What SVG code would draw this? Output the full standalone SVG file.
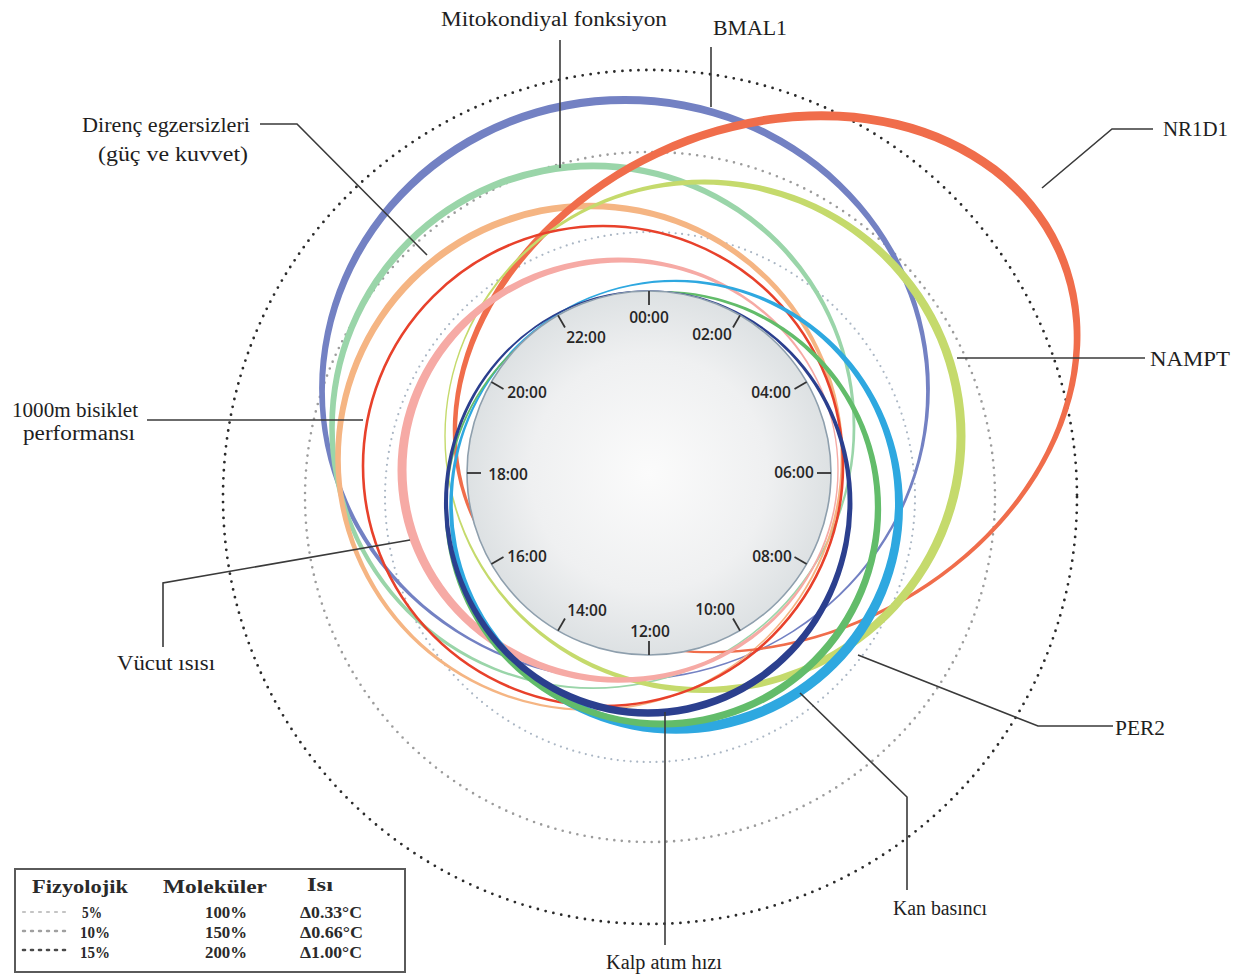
<svg xmlns="http://www.w3.org/2000/svg" width="1248" height="975" viewBox="0 0 1248 975">
<style>
.lbl{font-family:"Liberation Serif","Times New Roman",serif;font-size:20px;fill:#1e1e1e}
.ring{fill-rule:evenodd;stroke:none}
.lead{stroke:#3a3a3a;stroke-width:1.6;fill:none}
.clk{font-family:"Open Sans","Liberation Sans",sans-serif;font-size:15.5px;font-weight:600;fill:#262626;text-anchor:middle}
.tick{stroke:#333;stroke-width:1.8}
.lg{font-family:"Liberation Serif","Times New Roman",serif;font-weight:bold;fill:#2a2a2a}
.lgh{font-size:19px}
.lgr{font-size:16.5px}
</style>
<defs>
<radialGradient id="clockGrad" cx="50%" cy="50%" r="50%">
<stop offset="0" stop-color="#fbfbfb"/>
<stop offset="0.65" stop-color="#eff0f1"/>
<stop offset="1" stop-color="#dde1e3"/>
</radialGradient>
</defs>
<rect width="1248" height="975" fill="#ffffff"/>

<g id="scale-circles" fill="none" stroke-linecap="round">
<circle cx="650" cy="497" r="427" stroke="#2a2a2a" stroke-width="2.8" stroke-dasharray="0 8"/>
<circle cx="650" cy="497" r="345" stroke="#9c9c9c" stroke-width="2.6" stroke-dasharray="0 7.5"/>
<circle cx="650" cy="497" r="265" stroke="#aab6c4" stroke-width="2.2" stroke-dasharray="0 6.5"/>
</g>

<g id="bmal1">
<path class="ring" fill="#7381c3" d="M319.1 388.45 a305.4 292.4 0 1 0 610.8 0 a305.4 292.4 0 1 0 -610.8 0 Z M324.9 391.55 a300.6 287.6 0 1 0 601.2 0 a300.6 287.6 0 1 0 -601.2 0 Z"/>
<text class="lbl" x="713" y="35" textLength="74" lengthAdjust="spacingAndGlyphs">BMAL1</text>
</g>

<g id="mitokondiyal">
<path class="ring" fill="#9ad5a9" d="M329.2 425.8 a263.1 263.1 0 1 0 526.2 0 a263.1 263.1 0 1 0 -526.2 0 Z M334.8 428.2 a258.9 258.9 0 1 0 517.8 0 a258.9 258.9 0 1 0 -517.8 0 Z"/>
<text class="lbl" x="441" y="26" textLength="226" lengthAdjust="spacingAndGlyphs">Mitokondiyal fonksiyon</text>
</g>

<g id="direnc">
<path class="ring" fill="#f5b583" d="M335.2 456.8 a254.1 254.1 0 1 0 508.2 0 a254.1 254.1 0 1 0 -508.2 0 Z M340.8 459.2 a249.9 249.9 0 1 0 499.8 0 a249.9 249.9 0 1 0 -499.8 0 Z"/>
<text class="lbl" x="82" y="132" textLength="168" lengthAdjust="spacingAndGlyphs">Direnç egzersizleri</text>
<text class="lbl" x="98" y="161" textLength="150" lengthAdjust="spacingAndGlyphs">(güç ve kuvvet)</text>
</g>

<g id="nr1d1">
<path class="ring" fill="#f06d4b" transform="translate(766 384) rotate(-25)" d="M-323.5 -1.24 a324.75 257.75 0 1 0 649.5 0 a324.75 257.75 0 1 0 -649.5 0 Z M-320.5 1.24 a319.25 252.25 0 1 0 638.5 0 a319.25 252.25 0 1 0 -638.5 0 Z"/>
<text class="lbl" x="1163" y="136" textLength="65" lengthAdjust="spacingAndGlyphs">NR1D1</text>
</g>

<g id="nampt">
<path class="ring" fill="#c5da6c" d="M444.3 436.2 a260.6 256.6 0 1 0 521.2 0 a260.6 256.6 0 1 0 -521.2 0 Z M445.7 435.8 a255.4 251.4 0 1 0 510.8 0 a255.4 251.4 0 1 0 -510.8 0 Z"/>
<text class="lbl" x="1150" y="366" textLength="80" lengthAdjust="spacingAndGlyphs">NAMPT</text>
</g>

<g id="bisiklet">
<circle cx="603" cy="466" r="240" fill="none" stroke="#e8412b" stroke-width="2.6"/>
<text class="lbl" x="12" y="417" textLength="126" lengthAdjust="spacingAndGlyphs">1000m bisiklet</text>
<text class="lbl" x="23" y="440" textLength="112" lengthAdjust="spacingAndGlyphs">performansı</text>
</g>

<g id="vucut">
<path class="ring" fill="#f6aaa5" d="M397.5 470.2 a220.6 212.6 0 1 0 441.2 0 a220.6 212.6 0 1 0 -441.2 0 Z M406.5 469.8 a215.4 207.4 0 1 0 430.8 0 a215.4 207.4 0 1 0 -430.8 0 Z"/>
<text class="lbl" x="117" y="670" textLength="98" lengthAdjust="spacingAndGlyphs">Vücut ısısı</text>
</g>

<g id="per2">
<path class="ring" fill="#2ea8e0" d="M449.2 506.8 a226.9 226.9 0 1 0 453.8 0 a226.9 226.9 0 1 0 -453.8 0 Z M452.8 503.2 a221.1 221.1 0 1 0 442.2 0 a221.1 221.1 0 1 0 -442.2 0 Z"/>
<text class="lbl" x="1115" y="735" textLength="50" lengthAdjust="spacingAndGlyphs">PER2</text>
</g>

<g id="kan">
<path class="ring" fill="#62bc6a" d="M444.65 509.2 a218.25 218.25 0 1 0 436.5 0 a218.25 218.25 0 1 0 -436.5 0 Z M447.35 506.8 a213.75 213.75 0 1 0 427.5 0 a213.75 213.75 0 1 0 -427.5 0 Z"/>
<text class="lbl" x="893" y="915" textLength="94" lengthAdjust="spacingAndGlyphs">Kan basıncı</text>
</g>

<g id="kalp">
<path class="ring" fill="#2b3f8e" d="M443.95 503.5 a204.25 213.25 0 1 0 408.5 0 a204.25 213.25 0 1 0 -408.5 0 Z M448.05 500.5 a199.75 208.75 0 1 0 399.5 0 a199.75 208.75 0 1 0 -399.5 0 Z"/>
<text class="lbl" x="606" y="969" textLength="116" lengthAdjust="spacingAndGlyphs">Kalp atım hızı</text>
</g>

<g id="clock">
<circle cx="649" cy="473" r="182" fill="url(#clockGrad)" stroke="#8e9fad" stroke-width="1.6"/>
<g class="tick">
<line x1="649" y1="291" x2="649" y2="305" transform="rotate(0 649 473)"/>
<line x1="649" y1="291" x2="649" y2="305" transform="rotate(30 649 473)"/>
<line x1="649" y1="291" x2="649" y2="305" transform="rotate(60 649 473)"/>
<line x1="649" y1="291" x2="649" y2="305" transform="rotate(90 649 473)"/>
<line x1="649" y1="291" x2="649" y2="305" transform="rotate(120 649 473)"/>
<line x1="649" y1="291" x2="649" y2="305" transform="rotate(150 649 473)"/>
<line x1="649" y1="291" x2="649" y2="305" transform="rotate(180 649 473)"/>
<line x1="649" y1="291" x2="649" y2="305" transform="rotate(210 649 473)"/>
<line x1="649" y1="291" x2="649" y2="305" transform="rotate(240 649 473)"/>
<line x1="649" y1="291" x2="649" y2="305" transform="rotate(270 649 473)"/>
<line x1="649" y1="291" x2="649" y2="305" transform="rotate(300 649 473)"/>
<line x1="649" y1="291" x2="649" y2="305" transform="rotate(330 649 473)"/>
</g>
<text class="clk" x="649" y="323">00:00</text>
<text class="clk" x="712" y="340">02:00</text>
<text class="clk" x="771" y="398">04:00</text>
<text class="clk" x="794" y="478">06:00</text>
<text class="clk" x="772" y="562">08:00</text>
<text class="clk" x="715" y="615">10:00</text>
<text class="clk" x="650" y="637">12:00</text>
<text class="clk" x="587" y="616">14:00</text>
<text class="clk" x="527" y="562">16:00</text>
<text class="clk" x="508" y="480">18:00</text>
<text class="clk" x="527" y="398">20:00</text>
<text class="clk" x="586" y="343">22:00</text>
</g>

<g id="connectors">
<path class="lead" d="M560 40 V168"/>
<path class="lead" d="M711 47 V107"/>
<path class="lead" d="M260 124 H297 L427 255"/>
<path class="lead" d="M1153 129 H1112 L1042 188"/>
<path class="lead" d="M1145 358 H957"/>
<path class="lead" d="M147 420 H363"/>
<path class="lead" d="M410 540 L163 583 V647"/>
<path class="lead" d="M858 655 L1038 726 H1113"/>
<path class="lead" d="M800 693 L907 797 V890"/>
<path class="lead" d="M665 712 V945"/>
</g>

<g id="legend">
<rect x="15" y="869" width="390" height="103" fill="#ffffff" stroke="#5a5a5a" stroke-width="2"/>
<text class="lg lgh" x="32" y="893" textLength="96" lengthAdjust="spacingAndGlyphs">Fizyolojik</text>
<text class="lg lgh" x="163" y="893" textLength="104" lengthAdjust="spacingAndGlyphs">Moleküler</text>
<text class="lg lgh" x="307" y="891" textLength="26" lengthAdjust="spacingAndGlyphs">Isı</text>
<g fill="none" stroke-linecap="round">
<line x1="23" y1="912" x2="69" y2="912" stroke="#c4c4c4" stroke-width="2.2" stroke-dasharray="2 6"/>
<line x1="23" y1="931" x2="69" y2="931" stroke="#a0a0a0" stroke-width="2.4" stroke-dasharray="2 6"/>
<line x1="23" y1="950" x2="69" y2="950" stroke="#4a4a4a" stroke-width="2.6" stroke-dasharray="2 6"/>
</g>
<text class="lg lgr" x="82" y="918" textLength="20" lengthAdjust="spacingAndGlyphs">5%</text>
<text class="lg lgr" x="80" y="938" textLength="30" lengthAdjust="spacingAndGlyphs">10%</text>
<text class="lg lgr" x="80" y="958" textLength="30" lengthAdjust="spacingAndGlyphs">15%</text>
<text class="lg lgr" x="205" y="918" textLength="42" lengthAdjust="spacingAndGlyphs">100%</text>
<text class="lg lgr" x="205" y="938" textLength="42" lengthAdjust="spacingAndGlyphs">150%</text>
<text class="lg lgr" x="205" y="958" textLength="42" lengthAdjust="spacingAndGlyphs">200%</text>
<text class="lg lgr" x="300" y="918" textLength="62" lengthAdjust="spacingAndGlyphs">Δ0.33°C</text>
<text class="lg lgr" x="300" y="938" textLength="63" lengthAdjust="spacingAndGlyphs">Δ0.66°C</text>
<text class="lg lgr" x="300" y="958" textLength="62" lengthAdjust="spacingAndGlyphs">Δ1.00°C</text>
</g>
</svg>
